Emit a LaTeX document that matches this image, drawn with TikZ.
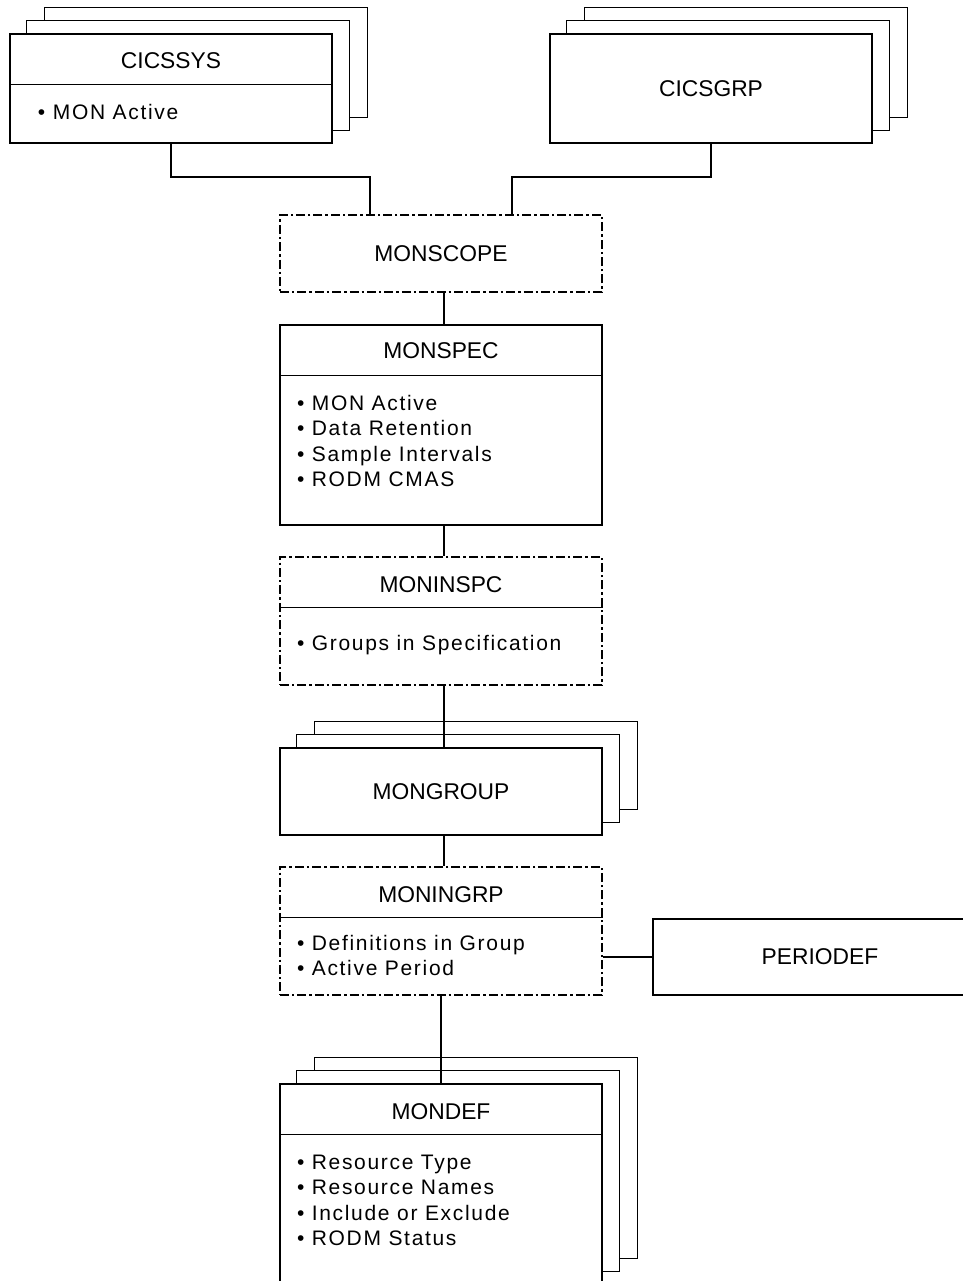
\documentclass[tikz,border=0pt]{standalone}
\usepackage{fontspec}
\setmainfont{Liberation Sans}
\newfontfamily\listfont[LetterSpace=8]{Liberation Sans}
\usetikzlibrary{calc}

\tikzset{
  box/.style={draw, minimum width=161pt, inner sep=0pt, font=\fontsize{11.4}{13.7}\selectfont},
  scopebox/.style={box, dash pattern=on 4.5pt off 1.5pt on 1.2pt off 1.5pt},
  title/.style={inner sep=0pt, font=\fontsize{11.4}{13.7}\selectfont},
  items/.style={anchor=north west, align=left, inner sep=0pt, font=\listfont\fontsize{10.5}{12.75}\selectfont},
}

% two frames stacked behind a box
\newcommand{\backframes}[1]{%
  \foreach \dx/\dy/\px/\py in {17/13/0/0,35/26/17/13}{
    \draw ($(#1.north west)+(\dx,-\py)$) -- ($(#1.north west)+(\dx,-\dy)$) -- ($(#1.north east)+(\dx,-\dy)$)
      -- ($(#1.south east)+(\dx,-\dy)$) -- ($(#1.south east)+(\px,-\dy)$);
  }}
% solid line under the title of a box
\newcommand{\divider}[1]{%
  \draw ($(#1.north west)+(0,51)$) -- ($(#1.north east)+(0,51)$);}

\begin{document}
\begin{tikzpicture}[x=0.5pt,y=0.5pt,yscale=-1,line width=0.6pt]
\clip (0,0) rectangle (963,1281);

%Shape: Rectangle [CICSSYS]
\node[box, minimum height=54.5pt] (cicssys) at (171,88.5) {};
\node[title] (cicssys-t) at ($(cicssys.north)+(0,27)$) {CICSSYS};
\divider{cicssys}
\node[items] (cicssys-l) at ($(cicssys.north west)+(28,70)$) {• MON Active};
\backframes{cicssys}

%Shape: Rectangle [CICSGRP]
\node[box, minimum height=54.5pt] (cicsgrp) at (711,88.5) {CICSGRP};
\backframes{cicsgrp}

%Shape: Rectangle [MONSCOPE]
\node[scopebox, minimum height=38.5pt] (monscope) at (441,253.5) {MONSCOPE};

%Shape: Rectangle [MONSPEC]
\node[box, minimum height=100pt] (monspec) at (441,425) {};
\node[title] (monspec-t) at ($(monspec.north)+(0,26)$) {MONSPEC};
\divider{monspec}
\node[items] (monspec-l) at ($(monspec.north west)+(17,70)$) {• MON Active\\• Data Retention\\• Sample Intervals\\• RODM CMAS};

%Shape: Rectangle [MONINSPC]
\node[scopebox, minimum height=64pt] (moninspc) at (441,621) {};
\node[title] (moninspc-t) at ($(moninspc.north)+(0,28)$) {MONINSPC};
\divider{moninspc}
\node[items] (moninspc-l) at ($(moninspc.north west)+(17,78)$) {• Groups in Specification};

%Shape: Rectangle [MONGROUP]
\node[box, minimum height=43.5pt] (mongroup) at (441,791.5) {MONGROUP};
\backframes{mongroup}

%Shape: Rectangle [MONINGRP]
\node[scopebox, minimum height=64pt] (moningrp) at (441,931) {};
\node[title] (moningrp-t) at ($(moningrp.north)+(0,28)$) {MONINGRP};
\divider{moningrp}
\node[items] (moningrp-l) at ($(moningrp.north west)+(17,68)$) {• Definitions in Group\\• Active Period};

%Shape: Rectangle [PERIODEF]
\node[box, minimum width=167pt, minimum height=38pt] (periodef) at (820,957) {PERIODEF};

%Shape: Rectangle [MONDEF]
\node[box, minimum height=100pt] (mondef) at (441,1184) {};
\node[title] (mondef-t) at ($(mondef.north)+(0,28)$) {MONDEF};
\divider{mondef}
\node[items] (mondef-l) at ($(mondef.north west)+(17,71)$) {• Resource Type\\• Resource Names\\• Include or Exclude\\• RODM Status};
\backframes{mondef}

%Straight Lines
\coordinate (jsys) at (370,177);
\coordinate (jgrp) at (512,177);
\draw (cicssys.south) |- (jsys) -- (jsys |- monscope.north);
\draw (cicsgrp.south) |- (jgrp) -- (jgrp |- monscope.north);
\draw ([xshift=1.5pt]monscope.south) -- ([xshift=1.5pt]monspec.north);
\draw ([xshift=1.5pt]monspec.south) -- ([xshift=1.5pt]moninspc.north);
\draw ([xshift=1.5pt]moninspc.south) -- ([xshift=1.5pt]mongroup.north);
\draw ([xshift=1.5pt]mongroup.south) -- ([xshift=1.5pt]moningrp.north);
\draw (moningrp.south) -- (mondef.north);
\draw (moningrp.east |- periodef.west) -- (periodef.west);

\end{tikzpicture}
\end{document}
